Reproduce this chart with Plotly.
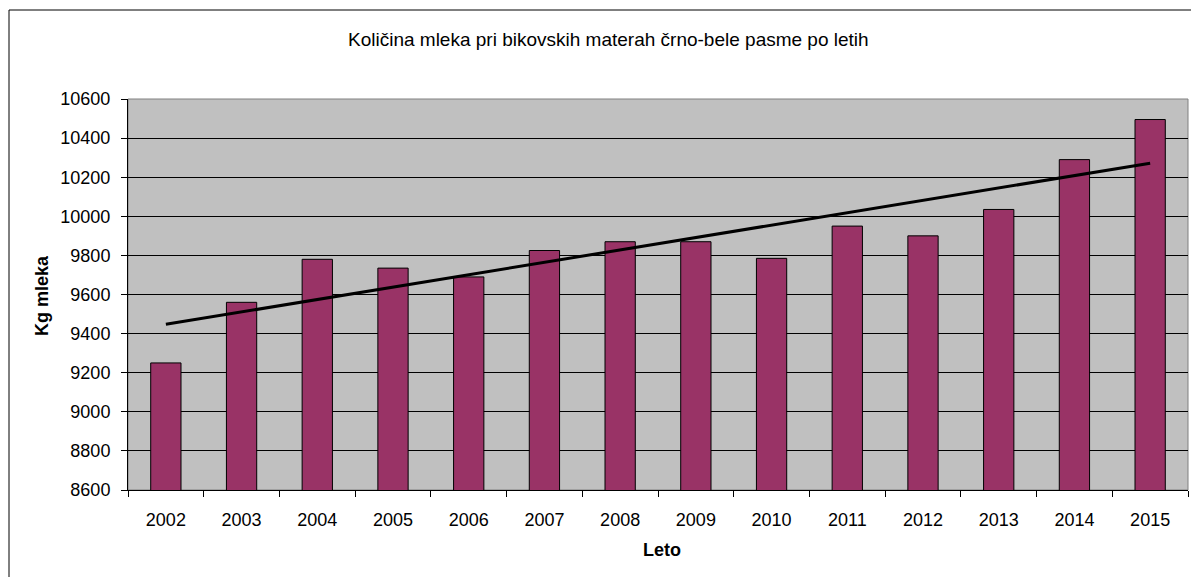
import numpy as np
import plotly.graph_objects as go

years = ["2002", "2003", "2004", "2005", "2006", "2007", "2008",
         "2009", "2010", "2011", "2012", "2013", "2014", "2015"]
milk_kg = [9250, 9560, 9780, 9735, 9690, 9825, 9870,
           9870, 9785, 9950, 9900, 10035, 10290, 10495]
y_ticks = [8600, 8800, 9000, 9200, 9400, 9600, 9800, 10000, 10200, 10400, 10600]
y_tick_labels = [str(v) for v in y_ticks]

# linear trend through the data
idx = np.arange(len(years))
slope, intercept = np.polyfit(idx, milk_kg, 1)
trend = [intercept, intercept + slope * idx[-1]]

W, H = 1191, 577
L, R, T, B = 128, 3, 99, 87
pw, ph = W - L - R, H - T - B

def px_x(x):
    return (x - L) / pw

def px_y(y):
    return (H - B - y) / ph

FONT = "Liberation Sans, Arial, sans-serif"

fig = go.Figure()
fig.add_trace(go.Bar(
    x=years, y=milk_kg,
    marker=dict(color="#993366", line=dict(color="black", width=1)),
    showlegend=False,
))
fig.add_trace(go.Scatter(
    x=[years[0], years[-1]], y=trend, mode="lines",
    line=dict(color="black", width=3), showlegend=False,
))

fig.update_layout(
    width=W, height=H,
    margin=dict(l=L, r=R, t=T, b=B),
    paper_bgcolor="white",
    plot_bgcolor="#C0C0C0",
    bargap=0.6,
    font=dict(family=FONT, color="black"),
    showlegend=False,
)
fig.update_xaxes(
    type="category",
    showline=True, linecolor="black", linewidth=1,
    ticks="outside", tickson="boundaries", ticklen=6, tickcolor="black",
    showgrid=False,
    tickfont=dict(family=FONT, size=18, color="black"),
    ticklabelstandoff=13,
)
fig.update_yaxes(
    range=[8600, 10600], tickvals=y_ticks, ticktext=y_tick_labels,
    showline=True, linecolor="black", linewidth=1,
    ticks="outside", ticklen=6, tickcolor="black",
    showgrid=True, gridcolor="black", gridwidth=1,
    zeroline=False,
    tickfont=dict(family=FONT, size=18, color="black"),
    ticklabelstandoff=7,
)

# plot area border (gray) and outer chart frame (black)
fig.add_shape(type="rect", xref="paper", yref="paper", x0=0, x1=1, y0=0, y1=1,
              line=dict(color="#808080", width=1), layer="below")
fig.add_shape(type="rect", xref="paper", yref="paper",
              x0=px_x(9), x1=px_x(1207), y0=px_y(600), y1=px_y(10),
              line=dict(color="black", width=1), layer="above")

fig.add_annotation(
    text="Količina mleka pri bikovskih materah črno-bele pasme po letih",
    xref="paper", yref="paper", x=px_x(608), y=px_y(39),
    showarrow=False, xanchor="center", yanchor="middle",
    font=dict(family=FONT, size=19, color="black"),
)
fig.add_annotation(
    text="<b>Kg mleka</b>", textangle=-90,
    xref="paper", yref="paper", x=px_x(42), y=px_y(296),
    showarrow=False, xanchor="center", yanchor="middle",
    font=dict(family=FONT, size=18, color="black"),
)
fig.add_annotation(
    text="<b>Leto</b>",
    xref="paper", yref="paper", x=px_x(662), y=px_y(550),
    showarrow=False, xanchor="center", yanchor="middle",
    font=dict(family=FONT, size=18, color="black"),
)

fig.write_html("out.html", config={"displayModeBar": False},
               post_script="document.body.style.margin='0';")
